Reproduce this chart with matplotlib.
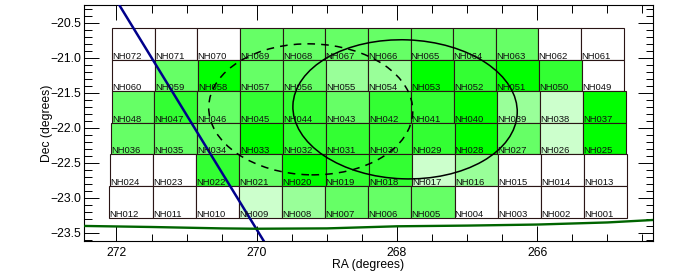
#!/usr/bin/env python3
import numpy as np
import matplotlib
matplotlib.use("Agg")
import matplotlib.pyplot as plt
from matplotlib.patches import Ellipse, Polygon
from matplotlib.ticker import MultipleLocator, FuncFormatter

plt.rcParams["font.family"] = ["Liberation Sans", "DejaVu Sans"]

# ── Data ──────────────────────────────────────────────────────────────────────
# field names run NH072 (top left) down to NH001 (bottom right)
FIELD_IDS = [[72 - 12 * r - c for c in range(12)] for r in range(6)]

# shade index per field, row by row: 0 white ... 5 full green
LEVELS = [
    [0, 0, 0, 2, 2, 2, 2, 2, 2, 2, 0, 0],
    [0, 2, 5, 2, 2, 1, 1, 5, 3, 5, 3, 0],
    [2, 3, 2, 3, 3, 2, 3, 3, 5, 1, 4, 5],
    [2, 2, 2, 5, 3, 3, 3, 3, 5, 2, 4, 5],
    [0, 0, 3, 2, 5, 3, 3, 4, 1, 0, 0, 0],
    [0, 0, 0, 4, 1, 2, 2, 2, 0, 0, 0, 0],
]
SHADES = {0: "#ffffff", 4: "#ccffcc", 1: "#99ff99", 2: "#66ff66", 3: "#33ff33", 5: "#00ff00"}

# row outer edges, top row first (7 dec edges for 6 rows)
ROW_DEC = [-20.583, -21.04, -21.483, -21.94, -22.383, -22.837, -23.29]
ROW_RA_LEFT = [272.06, 272.06, 272.07, 272.08, 272.09, 272.10]
ROW_RA_RIGHT = [264.77, 264.76, 264.74, 264.73, 264.72, 264.72]

# ellipses: centre RA, centre Dec, width (deg), height (deg), tilt (deg)
SOLID_ELLIPSE = (267.885, -21.74, 3.20, 1.985, 2)
DASHED_ELLIPSE = (269.23, -21.74, 2.91, 1.87, 1.5)

BLUE_RA = [271.96, 269.90]
BLUE_DEC = [-20.25, -23.62]

GREEN_RA = [272.47, 271.5, 270.5, 270.0, 269.0, 268.0, 267.0, 266.0, 265.0, 264.35]
GREEN_DEC = [-23.405, -23.42, -23.44, -23.445, -23.44, -23.41, -23.40, -23.385, -23.355, -23.32]

XLIM = (272.47, 264.35)
YLIM = (-23.62, -20.25)

# ── Plot ──────────────────────────────────────────────────────────────────────
fig = plt.figure(figsize=(6.95, 2.71), dpi=100)
ax = fig.add_axes([83.5 / 695, 1 - 241 / 271, (653 - 83.5) / 695, 236 / 271])

for r, row in enumerate(LEVELS):
    ra_edges = np.linspace(ROW_RA_LEFT[r], ROW_RA_RIGHT[r], 13)
    top, bottom = ROW_DEC[r], ROW_DEC[r + 1]
    for c, level in enumerate(row):
        ax.add_patch(Polygon(
            [(ra_edges[c], top), (ra_edges[c + 1], top), (ra_edges[c + 1], bottom), (ra_edges[c], bottom)],
            closed=True, facecolor=SHADES[level], edgecolor="#2a1515", linewidth=0.8, zorder=1,
        ))
        ax.text(ra_edges[c] - 0.003, bottom + 0.017, f"NH{FIELD_IDS[r][c]:03d}",
                fontsize=6.8, ha="left", va="baseline", color="#111111", zorder=4)

ra, dec, w, h, tilt = SOLID_ELLIPSE
ax.add_patch(Ellipse((ra, dec), w, h, angle=tilt, fill=False, edgecolor="black", linewidth=1.1, zorder=3))
ra, dec, w, h, tilt = DASHED_ELLIPSE
ax.add_patch(Ellipse((ra, dec), w, h, angle=tilt, fill=False, edgecolor="black", linewidth=1.1,
                     linestyle=(0, (5, 4)), zorder=3))

ax.plot(BLUE_RA, BLUE_DEC, color="#00008b", linewidth=1.8, zorder=3)
ax.plot(GREEN_RA, GREEN_DEC, color="#006400", linewidth=1.7, zorder=3)

ax.set_xlim(*XLIM)
ax.set_ylim(*YLIM)
ax.xaxis.set_major_locator(MultipleLocator(2))
ax.xaxis.set_minor_locator(MultipleLocator(0.5))
ax.yaxis.set_major_locator(MultipleLocator(0.5))
ax.yaxis.set_minor_locator(MultipleLocator(0.1))
ax.yaxis.set_major_formatter(FuncFormatter(lambda v, _: f"{v:.1f}".replace("-", "\u2212")))
ax.tick_params(which="major", direction="in", top=True, right=True, length=10.8, width=0.7, labelsize=8.7)
ax.tick_params(axis="x", which="major", pad=4)
ax.tick_params(axis="y", which="major", pad=1.5)
ax.tick_params(which="minor", direction="in", top=True, right=True, length=5.4, width=0.7)
for spine in ax.spines.values():
    spine.set_linewidth(0.8)

ax.set_xlabel("RA (degrees)", fontsize=8.7, labelpad=0)
ax.set_ylabel("Dec (degrees)", fontsize=8.7, labelpad=-1.5)

fig.savefig("out.png", dpi=100)
plt.close(fig)
